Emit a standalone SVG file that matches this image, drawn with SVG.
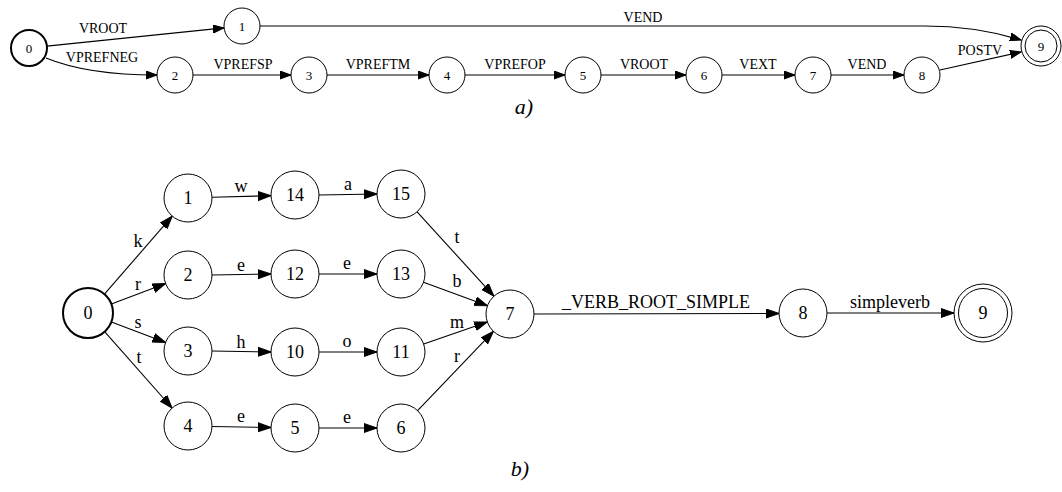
<svg xmlns="http://www.w3.org/2000/svg" width="1062" height="492" viewBox="0 0 1062 492">
<style>
  circle { fill: #ffffff; stroke: #000000; stroke-width: 1; }
  circle.start { stroke-width: 2; }
  .edges path, .edges line { fill: none; stroke: #000000; stroke-width: 1.1; }
  #edges-a path, #edges-a line { marker-end: url(#arrA); }
  #edges-b line { marker-end: url(#arrB); }
  text { font-family: "Liberation Serif", "Times New Roman", serif; fill: #000000; text-anchor: middle; }
  .na { font-size: 13px; }
  .la { font-size: 14px; }
  .nb { font-size: 18px; }
  .lb { font-size: 18px; }
  .cap { font-size: 22px; font-style: italic; }
</style>
<defs>
  <marker id="arrA" markerUnits="userSpaceOnUse" markerWidth="12" markerHeight="9" refX="11" refY="4" orient="auto">
    <path d="M0,0 L11,4 L0,8 z" fill="#000000" stroke="#000000" stroke-width="1"/>
  </marker>
  <marker id="arrB" markerUnits="userSpaceOnUse" markerWidth="14" markerHeight="11" refX="13" refY="5" orient="auto">
    <path d="M0,0.5 L13,5 L0,9.5 z" fill="#000000" stroke="#000000" stroke-width="1"/>
  </marker>
</defs>
<rect width="1062" height="492" fill="#ffffff"/>

<!-- Part a connectors -->
<g id="edges-a" class="edges">
  <line x1="46.9" y1="46.1" x2="224" y2="27.9"/>
  <path d="M46,58 C80,72 120,75 157,75"/>
  <path d="M260,26 L925,26 C965,26 995,32 1021,40"/>
  <line x1="193" y1="75" x2="291" y2="75"/>
  <line x1="327" y1="75" x2="429" y2="75"/>
  <line x1="465" y1="75" x2="565" y2="75"/>
  <line x1="601" y1="75" x2="686" y2="75"/>
  <line x1="722" y1="75" x2="795" y2="75"/>
  <line x1="831" y1="75" x2="904" y2="75"/>
  <line x1="940" y1="70" x2="1021" y2="52"/>
</g>
<g id="labels-a" class="la">
  <text x="103" y="33">VROOT</text>
  <text x="102" y="62">VPREFNEG</text>
  <text x="643" y="22">VEND</text>
  <text x="243" y="69">VPREFSP</text>
  <text x="378" y="69">VPREFTM</text>
  <text x="515" y="69">VPREFOP</text>
  <text x="644" y="69">VROOT</text>
  <text x="758" y="69">VEXT</text>
  <text x="867" y="69">VEND</text>
  <text x="980" y="55">POSTV</text>
</g>
<g id="a-n0"><circle class="start" cx="29" cy="48" r="18"/><text class="na" x="29" y="52.5">0</text></g>
<g id="a-n1"><circle cx="242" cy="26" r="18"/><text class="na" x="242" y="30.5">1</text></g>
<g id="a-n2"><circle cx="175" cy="75" r="18"/><text class="na" x="175" y="79.5">2</text></g>
<g id="a-n3"><circle cx="309" cy="75" r="18"/><text class="na" x="309" y="79.5">3</text></g>
<g id="a-n4"><circle cx="447" cy="75" r="18"/><text class="na" x="447" y="79.5">4</text></g>
<g id="a-n5"><circle cx="583" cy="75" r="18"/><text class="na" x="583" y="79.5">5</text></g>
<g id="a-n6"><circle cx="704" cy="75" r="18"/><text class="na" x="704" y="79.5">6</text></g>
<g id="a-n7"><circle cx="813" cy="75" r="18"/><text class="na" x="813" y="79.5">7</text></g>
<g id="a-n8"><circle cx="922" cy="75" r="18"/><text class="na" x="922" y="79.5">8</text></g>
<g id="a-n9"><circle cx="1041" cy="46" r="20"/><circle cx="1041" cy="46" r="16"/><text class="na" x="1041" y="50.5">9</text></g>
<text class="cap" x="524" y="114">a)</text>

<!-- Part b connectors -->
<g id="edges-b" class="edges">
  <line x1="103.8" y1="294.9" x2="172.2" y2="216.1"/>
  <line x1="111.4" y1="304.1" x2="165.6" y2="283.5"/>
  <line x1="111.4" y1="321.9" x2="165.6" y2="342.5"/>
  <line x1="104.6" y1="331.7" x2="172.1" y2="408"/>
  <line x1="212" y1="197.3" x2="271" y2="195.7"/>
  <line x1="319" y1="195" x2="377" y2="194"/>
  <line x1="212" y1="275" x2="271" y2="274"/>
  <line x1="319" y1="274" x2="377" y2="274"/>
  <line x1="212" y1="351" x2="271" y2="352"/>
  <line x1="319" y1="352" x2="377" y2="352"/>
  <line x1="212" y1="426.5" x2="271" y2="427.5"/>
  <line x1="319" y1="428" x2="377" y2="428"/>
  <line x1="417.1" y1="211.8" x2="493.9" y2="296.2"/>
  <line x1="423.5" y1="282.3" x2="487.5" y2="305.7"/>
  <line x1="423.7" y1="344.1" x2="487.3" y2="321.9"/>
  <line x1="417.6" y1="410.6" x2="493.4" y2="331.4"/>
  <line x1="534" y1="314" x2="779" y2="313.5"/>
  <line x1="827" y1="313" x2="954" y2="313"/>
</g>
<g id="labels-b" class="lb">
  <text x="138" y="247">k</text>
  <text x="138" y="290">r</text>
  <text x="138" y="328">s</text>
  <text x="139" y="363">t</text>
  <text x="241" y="192">w</text>
  <text x="241" y="271">e</text>
  <text x="241" y="348">h</text>
  <text x="241" y="422">e</text>
  <text x="348" y="190">a</text>
  <text x="347" y="269">e</text>
  <text x="347" y="347">o</text>
  <text x="347" y="423">e</text>
  <text x="457" y="243">t</text>
  <text x="457" y="287">b</text>
  <text x="457" y="328">m</text>
  <text x="457" y="362">r</text>
  <text x="656" y="308">_VERB_ROOT_SIMPLE</text>
  <text x="890" y="308">simpleverb</text>
</g>
<g id="b-n0"><circle class="start" cx="88" cy="313" r="25"/><text class="nb" x="88" y="319">0</text></g>
<g id="b-n1"><circle cx="188" cy="198" r="24"/><text class="nb" x="188" y="204">1</text></g>
<g id="b-n14"><circle cx="295" cy="195" r="24"/><text class="nb" x="295" y="201">14</text></g>
<g id="b-n15"><circle cx="401" cy="194" r="24"/><text class="nb" x="401" y="200">15</text></g>
<g id="b-n2"><circle cx="188" cy="275" r="24"/><text class="nb" x="188" y="281">2</text></g>
<g id="b-n12"><circle cx="295" cy="274" r="24"/><text class="nb" x="295" y="280">12</text></g>
<g id="b-n13"><circle cx="401" cy="274" r="24"/><text class="nb" x="401" y="280">13</text></g>
<g id="b-n3"><circle cx="188" cy="351" r="24"/><text class="nb" x="188" y="357">3</text></g>
<g id="b-n10"><circle cx="295" cy="352" r="24"/><text class="nb" x="295" y="358">10</text></g>
<g id="b-n11"><circle cx="401" cy="352" r="24"/><text class="nb" x="401" y="358">11</text></g>
<g id="b-n4"><circle cx="188" cy="426" r="24"/><text class="nb" x="188" y="432">4</text></g>
<g id="b-n5"><circle cx="295" cy="428" r="24"/><text class="nb" x="295" y="434">5</text></g>
<g id="b-n6"><circle cx="401" cy="428" r="24"/><text class="nb" x="401" y="434">6</text></g>
<g id="b-n7"><circle cx="510" cy="314" r="24"/><text class="nb" x="510" y="320">7</text></g>
<g id="b-n8"><circle cx="803" cy="313" r="24"/><text class="nb" x="803" y="319">8</text></g>
<g id="b-n9"><circle cx="983" cy="313" r="29"/><circle cx="983" cy="313" r="24.5"/><text class="nb" x="983" y="319">9</text></g>
<text class="cap" x="520" y="476">b)</text>
</svg>
